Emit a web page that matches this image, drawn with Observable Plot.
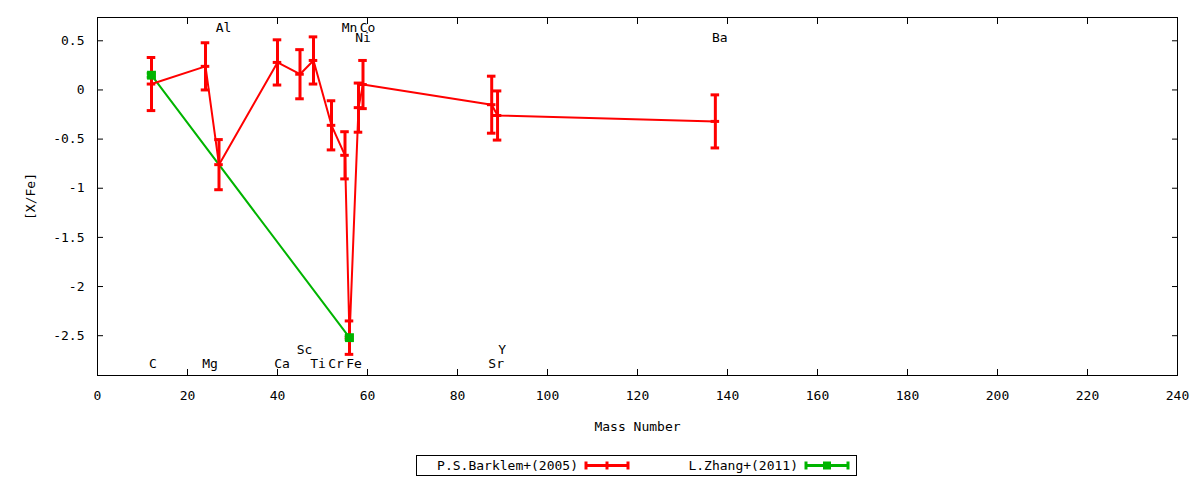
<!DOCTYPE html>
<html>
<head>
<meta charset="utf-8">
<script src="https://cdn.jsdelivr.net/npm/d3@7"></script>
<script src="https://cdn.jsdelivr.net/npm/@observablehq/plot@0.6"></script>
<style>
  body { margin: 0; background: #fff; font-family: "DejaVu Sans Mono", monospace; }
  #legend { margin-top: 15px; margin-left: 416px; }
</style>
</head>
<body>
<div id="chart"></div>
<div id="legend"></div>
<script>
// P.S.Barklem+(2005)
const elements = ["C", "Mg", "Al", "Ca", "Sc", "Ti", "Cr", "Mn", "Fe", "Ni", "Co", "Sr", "Y", "Ba"];
const massNumbers = [12, 24, 27, 40, 45, 48, 52, 55, 56, 58, 59, 87.6, 88.9, 137.3];
const barklemXFe = [0.06, 0.24, -0.76, 0.28, 0.16, 0.30, -0.36, -0.665, -2.52, -0.18, 0.055, -0.15, -0.26, -0.32];
const barklemErr = [0.27, 0.24, 0.255, 0.23, 0.25, 0.24, 0.25, 0.24, 0.17, 0.25, 0.245, 0.29, 0.25, 0.27];

// L.Zhang+(2011)
const zhangElements = ["C", "Fe"];
const zhangMass = [12, 56];
const zhangXFe = [0.15, -2.52];
const zhangErr = [0.02, 0.02];

// element label heights ([X/Fe] units)
const labelY = [-2.79, -2.79, 0.63, -2.79, -2.64, -2.79, -2.79, 0.63, -2.79, 0.53, 0.63, -2.79, -2.64, 0.53];

const xTicks = d3.range(0, 241, 20);
const yTicks = [-2.5, -2, -1.5, -1, -0.5, 0, 0.5];

const red = "#ff0000";
const green = "#00b400";
const font = "DejaVu Sans Mono";

const barklem = elements.map((e, i) => ({el: e, x: massNumbers[i], y: barklemXFe[i], err: barklemErr[i]}));
const zhang = zhangElements.map((e, i) => ({el: e, x: zhangMass[i], y: zhangXFe[i], err: zhangErr[i]}));
const labels = elements.map((e, i) => ({el: e, x: massNumbers[i], y: labelY[i]}));

const capW = 0.95;
function errorMarks(data, color) {
  return [
    Plot.ruleX(data, {x: "x", y1: d => d.y - d.err, y2: d => d.y + d.err, stroke: color, strokeWidth: 3}),
    Plot.ruleY(data, {y: d => d.y + d.err, x1: d => d.x - capW, x2: d => d.x + capW, stroke: color, strokeWidth: 3}),
    Plot.ruleY(data, {y: d => d.y - d.err, x1: d => d.x - capW, x2: d => d.x + capW, stroke: color, strokeWidth: 3})
  ];
}

const chart = Plot.plot({
  width: 1200,
  height: 440,
  marginLeft: 97,
  marginRight: 23,
  marginTop: 17,
  marginBottom: 65,
  style: {fontFamily: font, fontSize: "13px", color: "black", background: "white"},
  x: {domain: [0, 240]},
  y: {domain: [-2.905, 0.737]},
  marks: [
    Plot.frame({stroke: "black", strokeWidth: 1}),
    Plot.axisX({ticks: xTicks, tickSize: -6, tickPadding: 21, tickFormat: d => String(d), label: "Mass Number", labelAnchor: "center", labelArrow: "none", labelOffset: 55, fontSize: 13}),
    Plot.axisX({anchor: "top", ticks: xTicks, tickSize: -6, tickFormat: () => "", label: null}),
    Plot.axisY({ticks: yTicks, tickSize: -6, tickPadding: 19, tickFormat: d => String(d), label: "[X/Fe]", labelAnchor: "center", labelArrow: "none", labelOffset: 72, fontSize: 13}),
    Plot.axisY({anchor: "right", ticks: yTicks, tickSize: -6, tickFormat: () => "", label: null}),
    Plot.line(zhang, {x: "x", y: "y", stroke: green, strokeWidth: 2}),
    Plot.line(barklem, {x: "x", y: "y", stroke: red, strokeWidth: 2}),
    ...errorMarks(barklem, red),
    Plot.ruleY(barklem, {y: "y", x1: d => d.x - capW, x2: d => d.x + capW, stroke: red, strokeWidth: 3}),
    ...errorMarks(zhang, green),
    Plot.dot(zhang, {x: "x", y: "y", symbol: "square", r: 5, fill: green}),
    Plot.text(labels, {filter: d => d.el !== "C", x: "x", y: "y", text: "el", dx: 4.5, fontSize: 13, fill: "black"}),
    Plot.text(labels, {filter: d => d.el === "C", x: "x", y: "y", text: "el", dx: 1.5, fontSize: 13, fill: "black"})
  ]
});
document.getElementById("chart").append(chart);

// legend box
const lg = d3.select("#legend").append("svg").attr("width", 442).attr("height", 22);
lg.append("rect").attr("x", 0.5).attr("y", 0.5).attr("width", 440).attr("height", 20)
  .attr("fill", "none").attr("stroke", "black");
const entries = [
  {name: "P.S.Barklem+(2005)", color: red, tx: 162, x0: 170, x1: 212},
  {name: "L.Zhang+(2011)", color: green, tx: 382, x0: 390, x1: 432}
];
entries.forEach(e => {
  lg.append("text").attr("x", e.tx).attr("y", 15).attr("text-anchor", "end")
    .attr("font-family", font).attr("font-size", 13).text(e.name);
  lg.append("line").attr("x1", e.x0).attr("x2", e.x1).attr("y1", 10.5).attr("y2", 10.5)
    .attr("stroke", e.color).attr("stroke-width", 3);
  [e.x0, e.x1].forEach(x => lg.append("line").attr("x1", x).attr("x2", x).attr("y1", 6.5).attr("y2", 14.5)
    .attr("stroke", e.color).attr("stroke-width", 3));
  const xm = (e.x0 + e.x1) / 2;
  if (e.color === green) {
    lg.append("rect").attr("x", xm - 4).attr("y", 6.5).attr("width", 8).attr("height", 8).attr("fill", e.color);
  } else {
    lg.append("line").attr("x1", xm).attr("x2", xm).attr("y1", 6.5).attr("y2", 14.5)
      .attr("stroke", e.color).attr("stroke-width", 3);
  }
});
</script>
</body>
</html>
